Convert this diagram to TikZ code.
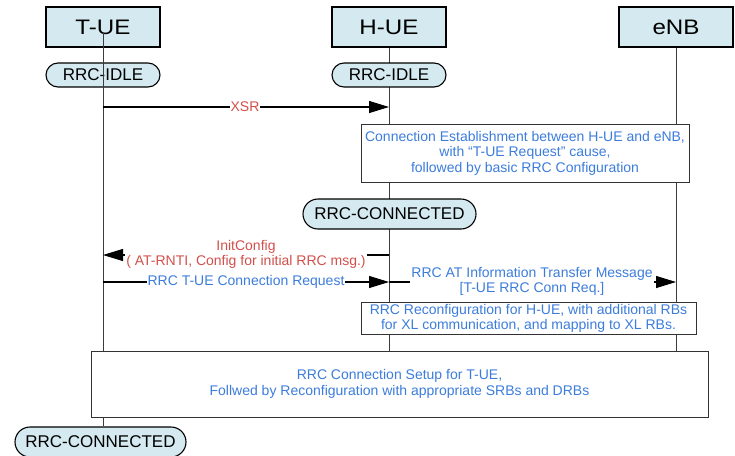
\documentclass[tikz,border=0pt]{standalone}
\usepackage{fontspec}
\setmainfont{Liberation Sans}
\newfontfamily\widefont[FakeStretch=1.15]{Liberation Sans}
\usetikzlibrary{arrows.meta,shapes.misc}
\definecolor{pillblue}{RGB}{212,234,240}
\definecolor{txtblue}{RGB}{60,125,220}
\definecolor{txtred}{RGB}{210,80,75}
\definecolor{lifegray}{RGB}{60,60,60}
\pgfdeclarelayer{background}
\pgfdeclarelayer{front}
\pgfsetlayers{background,main,front}
\begin{document}
\begin{tikzpicture}[x=1pt,y=-1pt,
  header/.style={draw=black,line width=1.1pt,fill=pillblue,minimum width=114pt,minimum height=40pt,inner sep=0pt,font=\widefont\fontsize{21}{24}\selectfont},
  pill/.style={rounded rectangle,draw=black,line width=1.1pt,fill=pillblue,inner sep=0pt},
  idle/.style={pill,minimum width=114pt,minimum height=24pt,font=\fontsize{17}{19}\selectfont},
  conn/.style={pill,minimum width=173pt,minimum height=30pt,font=\fontsize{17}{19}\selectfont},
  infobox/.style={draw=black!80,line width=0.8pt,fill=white,inner sep=0pt,align=center,text=txtblue},
  life/.style={draw=lifegray,line width=0.7pt},
  msg/.style={line width=1.1pt,-{Triangle[length=20pt,width=12pt]}},
  msglabel/.style={fill=white,inner sep=1pt,align=center,font=\fontsize{14}{15.5}\selectfont},
]
\useasboundingbox (0,0) rectangle (735,455);

% headers
\node[header] (tue) at (103,27) {T-UE};
\node[header] (hue) at (389,27) {H-UE};
\node[header] (enb) at (676,27) {eNB};

% state pills
\node[idle] (tidle) at (103,75) {RRC-IDLE};
\node[idle] (hidle) at (389,75) {RRC-IDLE};
\node[conn] (hconn) at (389.5,214) {RRC-CONNECTED};

% info boxes
\node[infobox,minimum width=328pt,minimum height=58pt,font=\fontsize{14}{15.5}\selectfont] (b1) at (525,153)
  {Connection Establishment between H-UE and eNB,\\with “T-UE Request” cause,\\followed by basic RRC Configuration};
\node[infobox,minimum width=335pt,minimum height=32pt,font=\fontsize{14}{15}\selectfont] (b2) at (528.5,318)
  {RRC Reconfiguration for H-UE, with additional RBs\\for XL communication, and mapping to XL RBs.};

\begin{pgfonlayer}{front}
\node[infobox,minimum width=617pt,minimum height=66pt,font=\fontsize{14}{16}\selectfont] (b3) at (399.5,384)
  {RRC Connection Setup for T-UE,\\Follwed by Reconfiguration with appropriate SRBs and DRBs};
\node[conn,minimum width=171pt] (tconn) at (100.5,442) {RRC-CONNECTED};
\end{pgfonlayer}

% lifelines
\begin{pgfonlayer}{background}
\draw[life] (hue.south) -- (hue.south |- b3.north);
\draw[life] (enb.south) -- (enb.south |- b3.north);
\end{pgfonlayer}
\coordinate (tueStart) at (103,33);
\draw[life] (tueStart) -- (tueStart |- tconn.north);

% messages
\draw[msg] (tue.center |- 0,107) -- (hue.center |- 0,107);
\node[msglabel,text=txtred] (xsr) at (245,107) {XSR};

\draw[msg] (hue.center |- 0,255) -- (tue.center |- 0,255);
\node[msglabel,text=txtred] (initcfg) at (246,254.5) {InitConfig\\( AT-RNTI, Config for initial RRC msg.)};

\draw[msg] (tue.center |- 0,282) -- (hue.center |- 0,282);
\node[msglabel,text=txtblue] (connreq) at (246,282) {RRC T-UE Connection Request};

\draw[msg] (hue.center |- 0,282) -- (enb.center |- 0,282);
\node[msglabel,text=txtblue] (atinfo) at (532,281.5) {RRC AT Information Transfer Message\\{}[T-UE RRC Conn Req.]};
\end{tikzpicture}
\end{document}
